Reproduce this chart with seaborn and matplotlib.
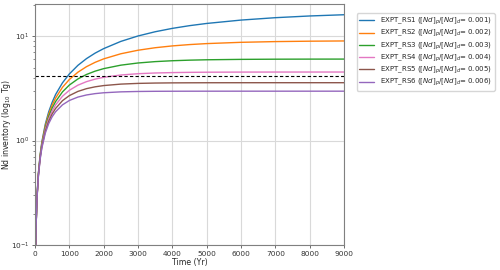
import numpy as np
import pandas as pd
import matplotlib
matplotlib.use("Agg")
import matplotlib.pyplot as plt
import seaborn as sns

# Time axis (years)
time_yr = [10, 30, 60, 100, 150, 200, 300, 400, 500, 600, 800, 1000, 1250, 1500,
           1750, 2000, 2500, 3000, 3500, 4000, 4500, 5000, 6000, 7000, 8000, 9000]

# Nd inventory (Tg)
rs1 = [0.050, 0.149, 0.297, 0.493, 0.734, 0.971, 1.435, 1.887, 2.325, 2.76, 3.57, 4.34, 5.25, 6.09,
       6.87, 7.59, 8.90, 10.03, 11.01, 11.86, 12.59, 13.22, 14.24, 15.01, 15.59, 16.02]
rs2 = [0.050, 0.149, 0.295, 0.486, 0.720, 0.947, 1.382, 1.795, 2.184, 2.554, 3.234, 3.842, 4.513, 5.099,
       5.608, 6.053, 6.776, 7.324, 7.741, 8.057, 8.297, 8.479, 8.721, 8.861, 8.941, 8.988]
rs3 = [0.050, 0.148, 0.293, 0.480, 0.705, 0.922, 1.328, 1.702, 2.047, 2.363, 2.924, 3.399, 3.891, 4.292,
       4.617, 4.882, 5.271, 5.529, 5.699, 5.811, 5.885, 5.935, 5.988, 6.012, 6.022, 6.026]
rs4 = [0.050, 0.148, 0.290, 0.473, 0.691, 0.897, 1.277, 1.617, 1.921, 2.194, 2.657, 3.028, 3.390, 3.665,
       3.873, 4.032, 4.243, 4.365, 4.435, 4.475, 4.498, 4.512, 4.524, 4.528, 4.529, 4.530]
rs5 = [0.050, 0.147, 0.288, 0.467, 0.677, 0.873, 1.226, 1.532, 1.799, 2.031, 2.409, 2.694, 2.955, 3.140,
       3.269, 3.361, 3.471, 3.526, 3.553, 3.567, 3.573, 3.577, 3.579, 3.580, 3.580, 3.580]
rs6 = [0.050, 0.146, 0.285, 0.460, 0.663, 0.849, 1.178, 1.455, 1.690, 1.888, 2.197, 2.419, 2.608, 2.732,
       2.814, 2.868, 2.926, 2.951, 2.962, 2.966, 2.968, 2.969, 2.970, 2.970, 2.970, 2.970]

labels = [
    r"EXPT_RS1 ([$Nd$]$_{p}$/[$Nd$]$_{d}$= 0.001)",
    r"EXPT_RS2 ([$Nd$]$_{p}$/[$Nd$]$_{d}$= 0.002)",
    r"EXPT_RS3 ([$Nd$]$_{p}$/[$Nd$]$_{d}$= 0.003)",
    r"EXPT_RS4 ([$Nd$]$_{p}$/[$Nd$]$_{d}$= 0.004)",
    r"EXPT_RS5 ([$Nd$]$_{p}$/[$Nd$]$_{d}$= 0.005)",
    r"EXPT_RS6 ([$Nd$]$_{p}$/[$Nd$]$_{d}$= 0.006)",
]
reference_level = 4.19
x_ticks = [0, 1000, 2000, 3000, 4000, 5000, 6000, 7000, 8000, 9000]

colors = ["#1f77b4", "#ff7f0e", "#2ca02c", "#e377c2", "#8c564b", "#9467bd"]

series = [rs1, rs2, rs3, rs4, rs5, rs6]
frames = []
for lab, vals in zip(labels, series):
    frames.append(pd.DataFrame({"time": time_yr, "nd": vals, "run": lab}))
df = pd.concat(frames, ignore_index=True)

sns.set_style("whitegrid", {
    "axes.edgecolor": "#808080",
    "grid.color": "#d9d9d9",
    "xtick.bottom": True,
    "ytick.left": True,
    "xtick.color": "#333333",
    "ytick.color": "#333333",
})
plt.rcParams["font.family"] = ["DejaVu Sans"]

fig = plt.figure(figsize=(5.0, 2.7), dpi=100)
ax = fig.add_axes([0.07, 0.0926, 0.618, 0.8926])

sns.lineplot(data=df, x="time", y="nd", hue="run", palette=colors, ax=ax,
             linewidth=1.0, legend=True)
ax.axhline(reference_level, color="black", linestyle="--", linewidth=0.8,
           dashes=(3, 2))

ax.set_yscale("log")
ax.set_ylim(0.1, 20.3)
ax.set_xlim(0, 9000)
ax.set_xticks(x_ticks)
ax.tick_params(axis="both", labelsize=5.3, length=2.5, width=0.5, pad=1.5)
ax.tick_params(axis="y", which="minor", length=1.5, width=0.4, left=True)
ax.grid(True, which="major", color="#d9d9d9", linewidth=0.8)
ax.grid(False, which="minor")
for s in ax.spines.values():
    s.set_linewidth(0.8)
ax.set_xlabel("Time (Yr)", fontsize=5.6, labelpad=1)
ax.set_ylabel(r"Nd inventory (log$_{10}$ Tg)", fontsize=5.6)
ax.yaxis.set_label_coords(-0.07, 0.5)

handles, labs = ax.get_legend_handles_labels()
ax.get_legend().remove()
fig.legend(handles, labs, loc="upper left", bbox_to_anchor=(0.713, 0.951),
           borderaxespad=0, fontsize=5, frameon=True, handlelength=2.2,
           handletextpad=0.9, labelspacing=0.12, borderpad=0.35)

fig.savefig("out.png", dpi=100)
